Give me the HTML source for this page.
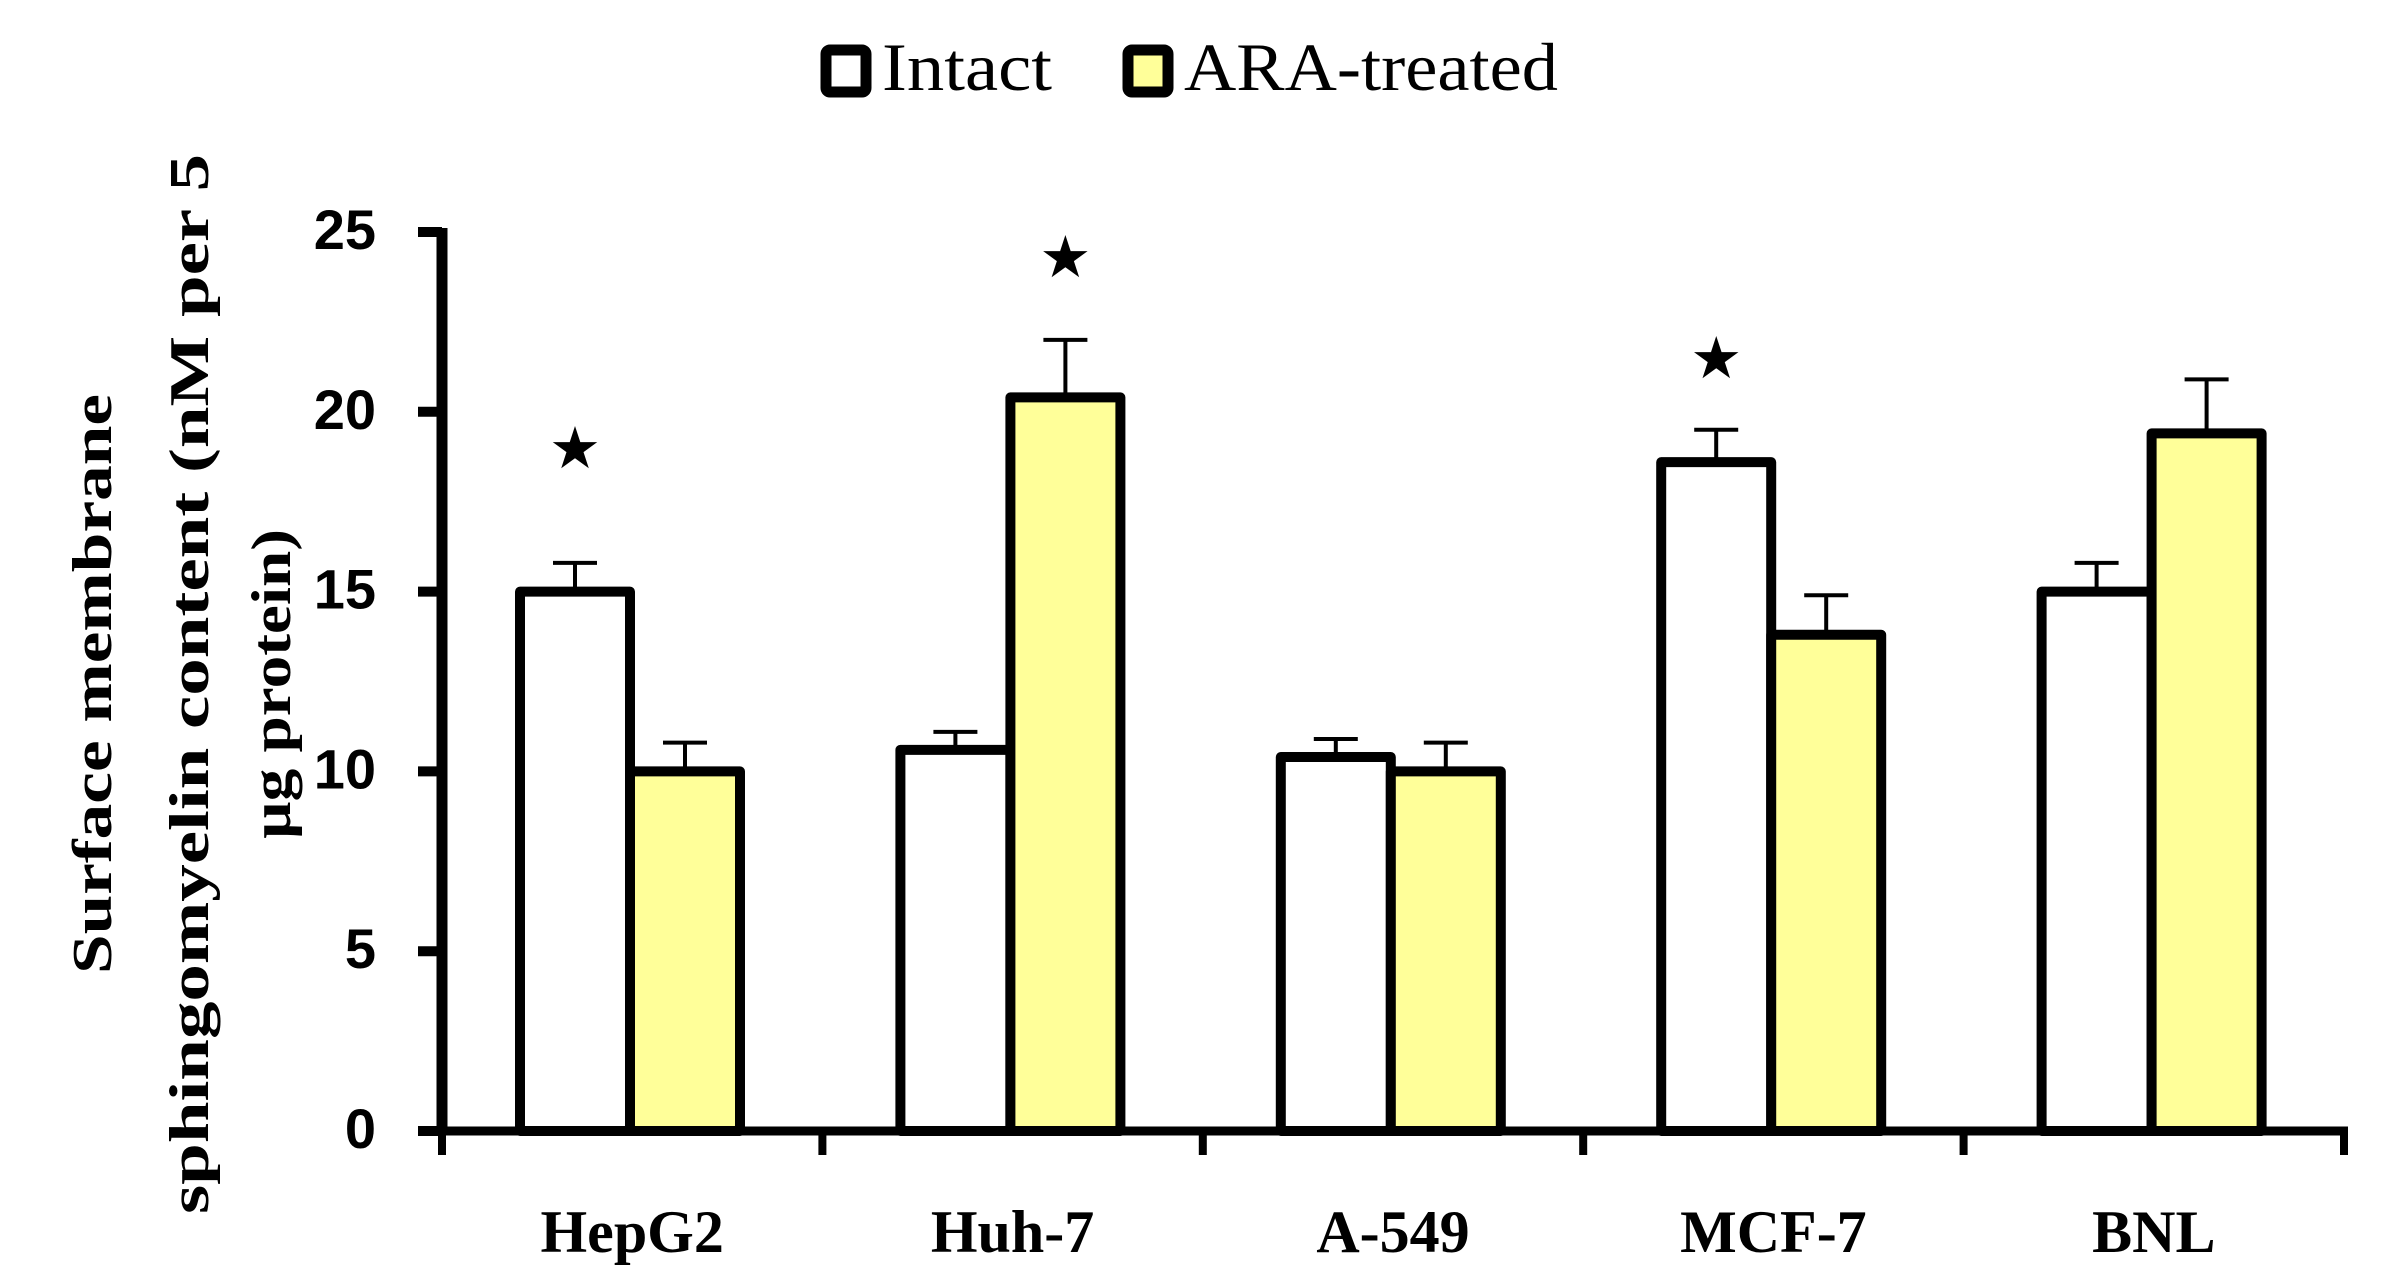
<!DOCTYPE html>
<html><head><meta charset="utf-8"><style>
html,body{margin:0;padding:0;background:#fff;}
svg{display:block;}
</style></head><body>
<svg id="chart" width="2397" height="1287" viewBox="0 0 2397 1287" xmlns="http://www.w3.org/2000/svg">
<g>
  <rect x="826" y="50" width="40" height="42" rx="4" fill="#fff" stroke="#000" stroke-width="11"/>
  <text x="882" y="90" font-family="Liberation Serif, serif" font-size="68" textLength="170" lengthAdjust="spacingAndGlyphs">Intact</text>
  <rect x="1128" y="50" width="40" height="42" rx="4" fill="#FFFF99" stroke="#000" stroke-width="11"/>
  <text x="1184" y="90" font-family="Liberation Serif, serif" font-size="68" textLength="374" lengthAdjust="spacingAndGlyphs">ARA-treated</text>
</g>
<g font-family="Liberation Serif, serif" font-weight="bold" font-size="56" text-anchor="middle">
  <text transform="translate(111,684) rotate(-90)" textLength="580" lengthAdjust="spacingAndGlyphs">Surface membrane</text>
  <text transform="translate(208,684) rotate(-90)" textLength="1060" lengthAdjust="spacingAndGlyphs">sphingomyelin content (nM per 5</text>
  <text transform="translate(290,684) rotate(-90)" textLength="310" lengthAdjust="spacingAndGlyphs">µg protein)</text>
</g>
<g id="plot"></g>
</svg>
<script>
const categories = ["HepG2","Huh-7","A-549","MCF-7","BNL"];
const intactValues = [15.0, 10.6, 10.4, 18.6, 15.0];
const araValues = [10.0, 20.4, 10.0, 13.8, 19.4];
const intactErrTop = [15.8, 11.1, 10.9, 19.5, 15.8];
const araErrTop = [10.8, 22.0, 10.8, 14.9, 20.9];
const starValues = [19.0, 24.3, null, 21.5, null];
const starSeries = ["intact","ara",null,"intact",null];
const yTicks = [0,5,10,15,20,25];

const NS="http://www.w3.org/2000/svg";
const plot=document.getElementById('plot');
const X0=442, X1=2344, Y0=1131, Y25=232;
const y=v=>Y0-(v/25)*(Y0-Y25);
const groupW=(X1-X0)/categories.length;
const barW=110, off=78;
function mk(tag,attrs){const e=document.createElementNS(NS,tag);for(const k in attrs)e.setAttribute(k,attrs[k]);plot.appendChild(e);return e;}

categories.forEach((c,i)=>{
  const gx=X0+i*groupW;
  const series=[["intact",intactValues[i],intactErrTop[i],"#fff"],["ara",araValues[i],araErrTop[i],"#FFFF99"]];
  series.forEach((s,j)=>{
    const bx=gx+off+j*barW, cx=bx+barW/2;
    const err=mk('line',{x1:cx,x2:cx,y1:y(s[1]),y2:y(s[2]),stroke:'#000','stroke-width':4});
    
    
    const cap=mk('line',{x1:cx-22,x2:cx+22,y1:y(s[2]),y2:y(s[2]),stroke:'#000','stroke-width':4});
    
    
    const r=mk('rect',{x:bx,y:y(s[1]),width:barW,height:Y0-y(s[1]),fill:s[3],stroke:'#000','stroke-width':10,'stroke-linejoin':'round'});
    
    
  });
  if(starValues[i]!==null){
    const j=starSeries[i]==="intact"?0:1;
    const t=mk('text',{x:gx+off+j*barW+barW/2,y:y(starValues[i])+20,'text-anchor':'middle','font-family':'DejaVu Sans, sans-serif','font-size':58});
    t.textContent='★';
    
    
  }
  const lbl=mk('text',{x:gx+groupW/2,y:1252,'text-anchor':'middle','font-family':'Liberation Serif, serif','font-weight':'bold','font-size':60});
  lbl.textContent=c;
  
  
});
const ya=mk('line',{x1:X0,x2:X0,y1:Y25-4,y2:Y0+4,stroke:'#000','stroke-width':11});


const xa=mk('line',{x1:X0-5,x2:X1+4,y1:Y0,y2:Y0,stroke:'#000','stroke-width':9});


for(let i=0;i<=categories.length;i++){
  const tx=X0+i*groupW;
  const t=mk('line',{x1:tx,x2:tx,y1:Y0,y2:Y0+24,stroke:'#000','stroke-width':8});
  
  
}
yTicks.forEach(v=>{
  const t=mk('line',{x1:X0-24,x2:X0,y1:y(v),y2:y(v),stroke:'#000','stroke-width':10});
  
  
  const l=mk('text',{x:376,y:y(v)+17,'text-anchor':'end','font-family':'Liberation Sans, sans-serif','font-weight':'bold','font-size':56});
  l.textContent=v;
  
  
});
</script>
</body></html>
